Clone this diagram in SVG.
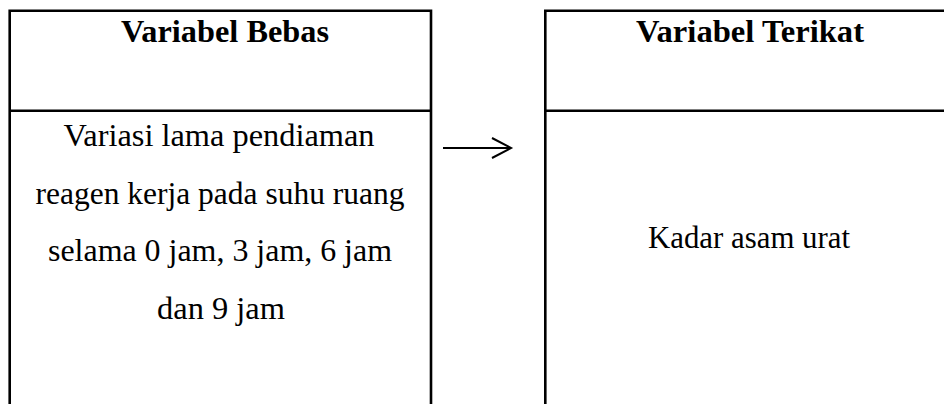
<svg xmlns="http://www.w3.org/2000/svg" width="944" height="404" viewBox="0 0 944 404">
  <style>
    .box { fill: none; stroke: #000; stroke-width: 2.6; }
    .hd { font-family: "Liberation Serif", "Times New Roman", serif; font-weight: bold; font-size: 31px; fill: #000; text-anchor: middle; }
    .tx { font-family: "Liberation Serif", "Times New Roman", serif; font-size: 31px; fill: #000; text-anchor: middle; }
    .conn { fill: none; stroke: #000; stroke-width: 2; }
  </style>
  <rect width="944" height="404" fill="#fff"/>
  <g id="bebas">
    <path class="box" d="M9.7,420 V10.7 H431 V420 M9.7,110.7 H431"/>
    <text class="hd" x="225" y="42" textLength="208" lengthAdjust="spacingAndGlyphs">Variabel Bebas</text>
    <text class="tx" x="219" y="146" textLength="311" lengthAdjust="spacingAndGlyphs">Variasi lama pendiaman</text>
    <text class="tx" x="220" y="204" textLength="369" lengthAdjust="spacingAndGlyphs">reagen kerja pada suhu ruang</text>
    <text class="tx" x="220" y="261" textLength="344" lengthAdjust="spacingAndGlyphs">selama 0 jam, 3 jam, 6 jam</text>
    <text class="tx" x="221" y="319" textLength="128" lengthAdjust="spacingAndGlyphs">dan 9 jam</text>
  </g>
  <g id="terikat">
    <path class="box" d="M545.3,420 V10.7 H960 M545.3,110.7 H960"/>
    <text class="hd" x="750" y="42" textLength="228" lengthAdjust="spacingAndGlyphs">Variabel Terikat</text>
    <text class="tx" x="749" y="248" textLength="202" lengthAdjust="spacingAndGlyphs">Kadar asam urat</text>
  </g>
  <g id="connectors">
    <path class="conn" d="M443,148 H510"/>
    <path class="conn" d="M492,138 L511,148 L492,158"/>
  </g>
</svg>
